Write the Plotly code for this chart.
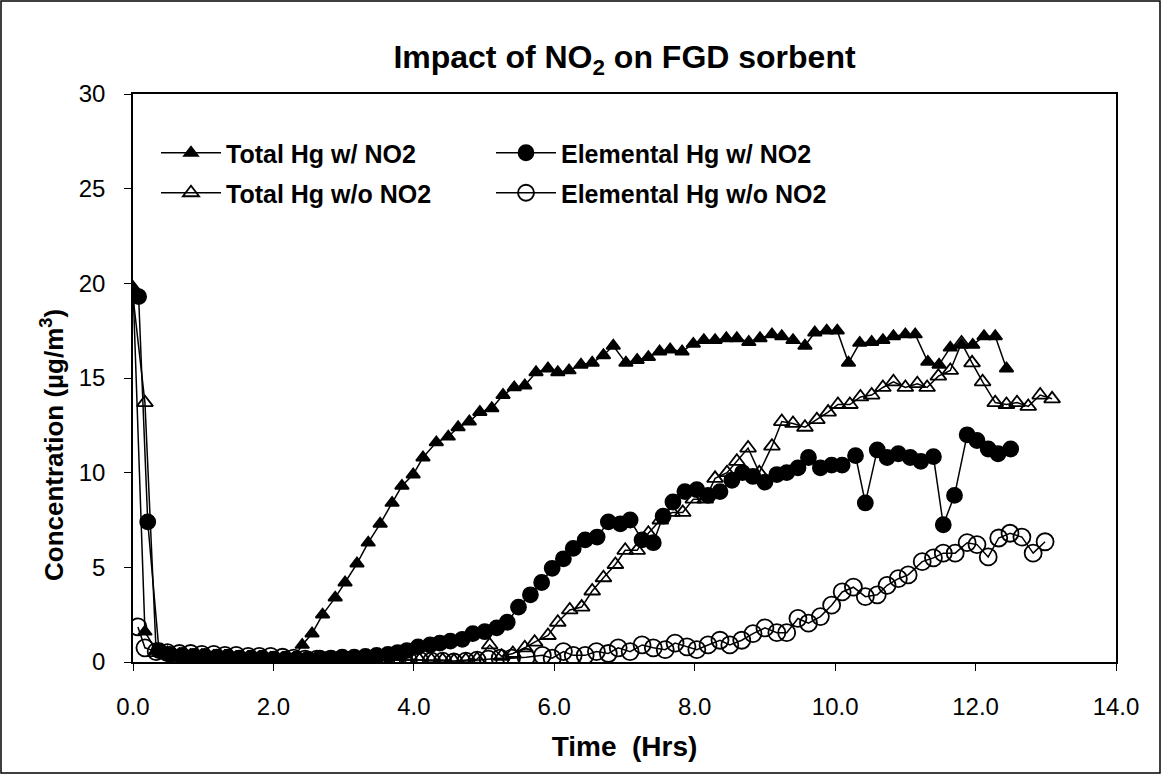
import plotly.graph_objects as go

# ---------------- data ----------------
t_total_no2 = [0.0, 0.17, 0.33, 0.49, 0.66, 0.82, 0.98, 1.15, 1.31, 1.47, 1.64, 1.80, 1.96, 2.13, 2.29,
               2.41, 2.55, 2.70, 2.88, 3.02, 3.19, 3.35, 3.52, 3.69, 3.83, 3.99, 4.13, 4.32, 4.49, 4.63,
               4.79, 4.94, 5.11, 5.27, 5.43, 5.58, 5.74, 5.91, 6.05, 6.21, 6.38, 6.54, 6.70, 6.84, 7.02,
               7.18, 7.34, 7.50, 7.65, 7.82, 7.98, 8.13, 8.29, 8.45, 8.60, 8.77, 8.93, 9.10, 9.24, 9.40,
               9.57, 9.71, 9.88, 10.03, 10.19, 10.35, 10.52, 10.68, 10.83, 11.00, 11.14, 11.32, 11.48,
               11.64, 11.80, 11.96, 12.12, 12.28, 12.44]
v_total_no2 = [19.8, 1.6, 0.6, 0.5, 0.4, 0.35, 0.3, 0.3, 0.3, 0.25, 0.25, 0.2, 0.2, 0.2, 0.2,
               0.9, 1.5, 2.5, 3.4, 4.2, 5.2, 6.3, 7.3, 8.4, 9.3, 9.9, 10.8, 11.6, 11.9, 12.4,
               12.7, 13.2, 13.4, 14.1, 14.5, 14.6, 15.3, 15.5, 15.3, 15.4, 15.7, 15.8, 16.2, 16.7, 15.8,
               15.95, 16.1, 16.4, 16.5, 16.4, 16.8, 17.0, 17.0, 17.1, 17.1, 16.9, 17.1, 17.3, 17.2, 17.0,
               16.7, 17.4, 17.5, 17.5, 15.8, 16.85, 16.9, 17.0, 17.2, 17.3, 17.3, 15.85, 15.7,
               16.6, 16.75, 16.75, 17.2, 17.2, 15.5]

t_elem_no2 = [0.08, 0.21, 0.37, 0.53, 0.70, 0.86, 1.02, 1.19, 1.35, 1.51, 1.68, 1.84, 2.00, 2.17, 2.33,
              2.49, 2.66, 2.82, 2.98, 3.15, 3.31, 3.47, 3.63, 3.77, 3.90, 4.06, 4.23, 4.37, 4.52, 4.69,
              4.84, 5.01, 5.18, 5.33, 5.49, 5.66, 5.82, 5.97, 6.13, 6.27, 6.44, 6.61, 6.77, 6.94, 7.08,
              7.25, 7.41, 7.55, 7.69, 7.86, 8.03, 8.19, 8.36, 8.53, 8.68, 8.83, 9.00, 9.17, 9.31, 9.47,
              9.62, 9.79, 9.95, 10.10, 10.29, 10.43, 10.60, 10.74, 10.90, 11.07, 11.22, 11.40, 11.54,
              11.70, 11.88, 12.02, 12.18, 12.32, 12.50]
v_elem_no2 = [19.3, 7.4, 0.6, 0.4, 0.35, 0.3, 0.3, 0.25, 0.25, 0.2, 0.2, 0.2, 0.15, 0.15, 0.15,
              0.15, 0.2, 0.2, 0.25, 0.25, 0.3, 0.35, 0.4, 0.5, 0.6, 0.8, 0.9, 1.0, 1.1, 1.2,
              1.5, 1.6, 1.8, 2.1, 2.9, 3.55, 4.2, 4.95, 5.45, 6.0, 6.45, 6.6, 7.4, 7.3, 7.5,
              6.45, 6.3, 7.7, 8.45, 9.0, 9.1, 8.8, 9.0, 9.6, 10.0, 9.8, 9.5, 9.9, 10.0, 10.25,
              10.8, 10.25, 10.4, 10.4, 10.9, 8.4, 11.2, 10.8, 11.0, 10.8, 10.6, 10.85, 7.25,
              8.8, 12.0, 11.7, 11.25, 11.0, 11.25]

t_total_no_no2 = [0.0, 0.17, 0.33, 0.49, 0.66, 0.82, 0.98, 1.15, 1.31, 1.47, 1.64, 1.80, 1.96, 2.13,
                  2.29, 2.45, 2.62, 2.78, 2.94, 3.11, 3.27, 3.43, 3.60, 3.76, 3.92, 4.08, 4.25, 4.41,
                  4.57, 4.74, 4.90, 5.08, 5.25, 5.41, 5.58, 5.72, 5.91, 6.05, 6.22, 6.39, 6.54, 6.70,
                  6.87, 7.01, 7.18, 7.34, 7.51, 7.68, 7.83, 7.98, 8.15, 8.29, 8.46, 8.60, 8.76, 8.92,
                  9.10, 9.24, 9.40, 9.57, 9.74, 9.90, 10.04, 10.21, 10.36, 10.52, 10.68, 10.83, 11.00,
                  11.17, 11.31, 11.47, 11.64, 11.80, 11.95, 12.10, 12.28, 12.44, 12.59, 12.75, 12.92, 13.09]
v_total_no_no2 = [19.3, 13.7, 0.5, 0.4, 0.35, 0.3, 0.3, 0.25, 0.25, 0.2, 0.2, 0.2, 0.15, 0.15,
                  0.15, 0.1, 0.1, 0.1, 0.1, 0.1, 0.1, 0.1, 0.1, 0.1, 0.1, 0.1, 0.1, 0.1,
                  0.05, 0.1, 0.15, 0.9, 0.3, 0.45, 0.75, 1.05, 1.4, 2.1, 2.75, 2.9, 3.75, 4.45,
                  5.15, 5.9, 5.9, 6.8, 7.5, 7.9, 7.9, 8.6, 8.6, 9.7, 10.0, 10.6, 11.3, 10.0,
                  11.4, 12.7, 12.6, 12.4, 12.8, 13.2, 13.6, 13.6, 14.0, 14.1, 14.5, 14.8, 14.5,
                  14.7, 14.5, 15.1, 15.4, 16.85, 15.8, 14.8, 13.7, 13.6, 13.7, 13.5, 14.1, 13.9]

t_elem_no_no2 = [0.07, 0.17, 0.33, 0.49, 0.66, 0.82, 0.98, 1.15, 1.31, 1.47, 1.64, 1.80, 1.96, 2.13,
                 2.29, 2.45, 2.62, 2.78, 2.94, 3.11, 3.27, 3.43, 3.60, 3.76, 3.92, 4.08, 4.25, 4.41,
                 4.57, 4.74, 4.90, 5.06, 5.23, 5.39, 5.60, 5.83, 5.97, 6.13, 6.27, 6.44, 6.60, 6.77,
                 6.91, 7.08, 7.25, 7.41, 7.58, 7.72, 7.89, 8.03, 8.19, 8.36, 8.50, 8.67, 8.83, 9.00,
                 9.17, 9.31, 9.47, 9.62, 9.79, 9.95, 10.10, 10.26, 10.43, 10.60, 10.74, 10.90, 11.04,
                 11.24, 11.40, 11.54, 11.71, 11.88, 12.02, 12.18, 12.33, 12.49, 12.66, 12.82, 12.99]
v_elem_no_no2 = [1.85, 0.75, 0.55, 0.5, 0.45, 0.45, 0.4, 0.4, 0.35, 0.35, 0.3, 0.3, 0.3, 0.25,
                 0.2, 0.15, 0.15, 0.1, 0.1, 0.1, 0.1, 0.1, 0.1, 0.1, 0.1, 0.1, 0.05, 0.05,
                 0.0, 0.05, 0.1, 0.15, 0.2, 0.2, 0.25, 0.35, 0.2, 0.55, 0.35, 0.35, 0.55, 0.45,
                 0.75, 0.55, 0.9, 0.75, 0.65, 1.0, 0.8, 0.65, 0.9, 1.15, 0.9, 1.15, 1.5, 1.8,
                 1.55, 1.55, 2.3, 2.05, 2.4, 3.0, 3.7, 3.95, 3.45, 3.55, 4.05, 4.4, 4.6,
                 5.3, 5.5, 5.75, 5.75, 6.3, 6.2, 5.55, 6.55, 6.8, 6.6, 5.75, 6.35]

x_ticks = [0, 2, 4, 6, 8, 10, 12, 14]
y_ticks = [0, 5, 10, 15, 20, 25, 30]

# ---------------- figure ----------------
FONT = "Liberation Sans, Arial, sans-serif"
W, H = 1161, 774
ML, MR, MT, MB = 133, 45, 94, 112

fig = go.Figure()

series = [
    ("Total Hg w/ NO2", t_total_no2, v_total_no2, "triangle-up", 12, "legend"),
    ("Elemental Hg w/ NO2", t_elem_no2, v_elem_no2, "circle", 15, "legend"),
    ("Total Hg w/o NO2", t_total_no_no2, v_total_no_no2, "triangle-up-open", 14, "legend2"),
    ("Elemental Hg w/o NO2", t_elem_no_no2, v_elem_no_no2, "circle-open", 17, "legend2"),
]
for name, xs, ys, sym, size, lg in series:
    fig.add_trace(go.Scatter(
        x=xs, y=ys, name=name, mode="lines+markers",
        line=dict(color="black", width=1.5),
        marker=dict(symbol=sym, size=size, color="black",
                    line=dict(color="black", width=1.8)),
        legend=lg,
    ))

pw = W - ML - MR
ph = H - MT - MB

legend_common = dict(
    orientation="h", xanchor="left", yanchor="middle",
    font=dict(family=FONT, size=25, color="black", weight="bold"),
    bgcolor="rgba(0,0,0,0)", borderwidth=0, entrywidth=260,
    itemwidth=60,
)

fig.update_layout(
    width=W, height=H,
    margin=dict(l=ML, r=MR, t=MT, b=MB),
    paper_bgcolor="white", plot_bgcolor="white",
    font=dict(family=FONT, color="black"),
    title=dict(text="<b>Impact of NO<sub>2</sub> on FGD sorbent</b>",
               x=(ML + pw / 2) / W, xanchor="center",
               y=1 - 57 / H, yanchor="middle",
               font=dict(family=FONT, size=32, color="black")),
    showlegend=True,
    legend=dict(x=(156 - ML) / pw, y=1 - (153 - MT) / ph, **legend_common),
    legend2=dict(x=(156 - ML) / pw, y=1 - (193 - MT) / ph, **legend_common),
    xaxis=dict(range=[0, 14], tickvals=x_ticks,
               ticktext=[f"{v:.1f}" for v in x_ticks],
               ticks="outside", ticklen=7, tickwidth=1, tickcolor="black",
               ticklabelstandoff=15,
               showline=True, linecolor="black", linewidth=1.5, mirror=True,
               showgrid=False, zeroline=False,
               tickfont=dict(family=FONT, size=24, color="black"),
               title=dict(text="<b>Time  (Hrs)</b>", standoff=18,
                          font=dict(family=FONT, size=28, color="black"))),
    yaxis=dict(range=[0, 30], tickvals=y_ticks,
               ticks="outside", ticklen=7, tickwidth=1, tickcolor="black",
               ticklabelstandoff=14,
               showline=True, linecolor="black", linewidth=1.5, mirror=True,
               showgrid=False, zeroline=False,
               tickfont=dict(family=FONT, size=24, color="black")),
    annotations=[dict(
        text="<b>Concentration (µg/m<sup>3</sup>)</b>",
        textangle=-90, showarrow=False,
        xref="paper", yref="paper",
        x=(52 - ML) / pw, y=1 - (445 - MT) / ph,
        xanchor="center", yanchor="middle",
        font=dict(family=FONT, size=26, color="black"),
    )],
)

# outer frame around the whole picture
fig.add_shape(type="rect", xref="paper", yref="paper",
              x0=(1 - ML) / pw, x1=(W - 1 - ML) / pw,
              y0=-(H - 1 - MT - ph) / ph, y1=1 + (MT - 1) / ph,
              line=dict(color="black", width=1.5), fillcolor="rgba(0,0,0,0)",
              layer="below")

fig.write_html("out.html")
